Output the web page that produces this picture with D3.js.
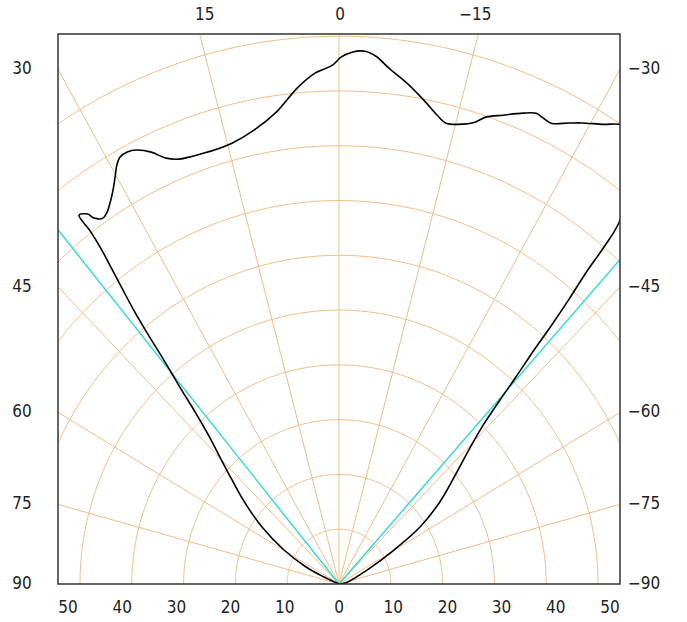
<!DOCTYPE html>
<html><head><meta charset="utf-8">
<script src="https://cdn.jsdelivr.net/npm/d3@7"></script>
<style>body{margin:0;background:#fff}</style>
</head><body><svg id="c" width="687" height="622"></svg>
<script>
// ---- data ----
const radii = [10,20,30,40,50,60,70,80,90,100];
const rayAngles = [-75,-60,-45,-30,-15,0,15,30,45,60,75];
const leftLabels = [30,45,60,75,90];
const rightLabels = [-30,-45,-60,-75,-90];
const topLabels = [15,0,-15];
const bottomTicks = [-50,-40,-30,-20,-10,0,10,20,30,40,50];
const cyanAngles = [40,-42.5];
// measured curve: angle (deg, left positive) and radius
const curveAngle = [90,66.2,64.0,59.7,55.0,50.8,47.3,44.9,42.9,41.5,40.5,39.6,39.0,38.4,37.8,37.3,36.9,36.7,36.7,
  35.7,35.3,34.3,33.4,32.45,31.25,30.2,29.3,28.5,27.4,26.3,24.7,23.25,21.7,19.9,16.9,14.4,11.2,8.0,5.1,2.85,0.76,-0.23,
  -1.48,-2.95,-4.24,-5.85,-8.17,-10.5,-12.5,-13.8,-16.0,-17.3,-18.4,-20.3,-22.45,-23.9,-24.7,-25.95,-27.8,-29.1,-31.4,-32.8,
  -35,-37.5,-39.4,-39.75,-40.0,-40.5,-41.0,-41.4,-42.1,-42.8,-43.8,-45.6,-48.2,-52.4,-56.4,-59.7,-64.8,-80,-90];
const curveRadius = [0,3.17,7.08,12.3,18.14,23.41,28.2,32.4,36.9,41.9,47.4,53.0,58.5,63.8,68.4,72.6,76.4,80.4,83.99,
  83.16,81.84,80.85,81.33,82.39,84.1,85.94,87.65,88.65,88.82,88.36,86.78,84.61,83.48,83.06,82.79,83.08,84.46,86.98,90.87,93.36,94.72,96.17,
  97.11,97.39,96.61,94.65,92.36,89.83,87.65,86.62,87.34,88.3,89.82,91.25,93.0,93.99,93.8,93.55,95.12,96.32,98.3,99.84,
  101,94,84.81,80.0,74.12,68.4,62.3,57.0,51.0,45.6,40.3,35.2,30.4,24.6,18.78,12.3,5.98,1.4,0];

// ---- scales ----
const svg = d3.select('#c');
const L = 58, R = 620, T = 34, B = 584;
const x = d3.scaleLinear().domain([-54.25, 54.25]).range([L, R]);
const y = d3.scaleLinear().domain([0, 100.4]).range([B, T]);
const xLab = d3.scaleLinear().domain([-50, 50]).range([68, 610]);
const rad = a => a * Math.PI / 180;
const px = (a, r) => x(-r * Math.sin(rad(a)));
const py = (a, r) => y(r * Math.cos(rad(a)));

svg.append('defs').append('clipPath').attr('id','clip')
  .append('rect').attr('x', L).attr('y', T).attr('width', R-L).attr('height', B-T);
const g = svg.append('g').attr('clip-path','url(#clip)');

// arcs
const polarLine = d3.line().x(d => px(d[0], d[1])).y(d => py(d[0], d[1]));
radii.forEach(r => {
  const pts = d3.range(-90, 90.01, 1).map(a => [a, r]);
  g.append('path').attr('d', polarLine(pts)).attr('fill','none')
    .attr('stroke','#f0c088').attr('stroke-width',1);
});
// rays
rayAngles.forEach(a => {
  g.append('line').attr('x1', px(a,0)).attr('y1', py(a,0))
    .attr('x2', px(a,200)).attr('y2', py(a,200))
    .attr('stroke', a === 0 ? '#f0c070' : '#f0bc88').attr('stroke-width',1);
});
// cyan lines
cyanAngles.forEach(a => {
  g.append('line').attr('x1', px(a,0)).attr('y1', py(a,0))
    .attr('x2', px(a,200)).attr('y2', py(a,200))
    .attr('stroke', '#3ad8d8').attr('stroke-width',1.5);
});
// curve
const pts = curveAngle.map((a,i) => [a, curveRadius[i]]);
g.append('path').attr('d', d3.line().x(d => px(d[0], d[1])).y(d => py(d[0], d[1]))
    .curve(d3.curveCatmullRom.alpha(0.5))(pts)).attr('fill','none')
  .attr('stroke','#000').attr('stroke-width',1.6).attr('stroke-linejoin','round');

// frame
svg.append('rect').attr('x', L).attr('y', T).attr('width', R-L).attr('height', B-T)
  .attr('fill','none').attr('stroke','#333').attr('stroke-width',1.5);

// labels
const font = '"Liberation Sans Narrow", "DejaVu Sans Condensed", "Noto Sans", sans-serif';
const txt = (tx, ty, s, anchor) => svg.append('text').attr('x', tx).attr('y', ty)
  .attr('text-anchor', anchor).attr('dominant-baseline','middle')
  .attr('font-family', font).attr('font-stretch','condensed').attr('font-size', 17)
  .attr('fill','#222').text(s);
leftLabels.forEach(a => {
  const v = (x.domain()[1]) / Math.tan(rad(a));
  txt(22, y(Math.max(0, v)), String(a), 'middle');
});
rightLabels.forEach(a => {
  const v = (x.domain()[1]) / Math.tan(rad(-a));
  txt(628, y(Math.max(0, v)), String(a).replace('-', '\u2212'), 'start');
});
topLabels.forEach(a => {
  const u = -y.domain()[1] * Math.tan(rad(a));
  txt(x(u) + (a===0?1:(a>0?5:-3)), 15, String(a).replace('-', '\u2212'), 'middle');
});
bottomTicks.forEach(t => {
  txt(xLab(t), 608, String(Math.abs(t)), 'middle');
});
</script></body></html>
